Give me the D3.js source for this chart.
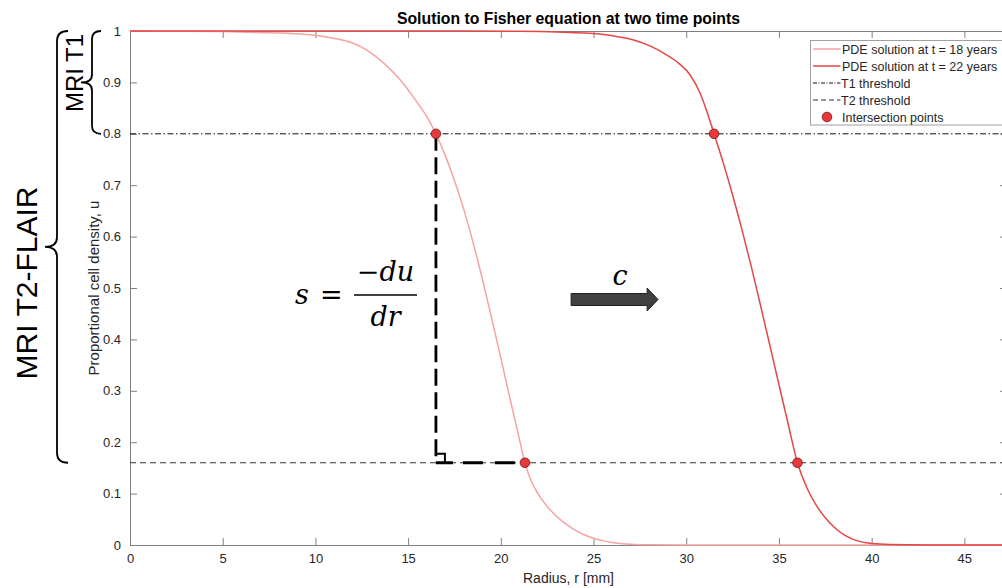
<!DOCTYPE html>
<html>
<head>
<meta charset="utf-8">
<script src="https://cdn.jsdelivr.net/npm/d3@7"></script>
<style>
  html, body { margin: 0; padding: 0; background: #fff; }
  svg { display: block; }
</style>
</head>
<body>
<svg id="chart" width="1002" height="588" font-family="'Liberation Sans', Arial, sans-serif"></svg>
<script>
// Fisher equation travelling-wave profiles, sampled as (radius, density)
const radius18  = [0, 3, 5, 7, 9.17, 10.97, 11.9, 12.77, 13.7, 14.57, 15.47, 16, 16.5, 17, 17.5, 18, 18.5, 19, 19.5, 20, 20.5, 21, 21.3, 21.6, 22, 22.5, 23, 23.5, 24, 24.5, 25, 25.5, 26, 27, 28, 30, 48];
const density18 = [1, 0.9997, 0.999, 0.997, 0.994, 0.986, 0.978, 0.963, 0.937, 0.905, 0.862, 0.834, 0.8, 0.758, 0.709, 0.653, 0.589, 0.518, 0.442, 0.364, 0.284, 0.206, 0.16, 0.128, 0.1, 0.075, 0.056, 0.041, 0.029, 0.02, 0.013, 0.0085, 0.005, 0.0015, 0.0004, 0, 0];

const radius22  = [0, 18, 21, 23, 25.36, 26.3, 27.16, 28.1, 28.96, 29.6, 30.22, 30.76, 31.1, 31.5, 32, 32.5, 33, 33.5, 34, 34.5, 35, 35.5, 36, 36.5, 37, 37.5, 38, 38.5, 39, 40, 41, 43, 48];
const density22 = [1, 0.9998, 0.9993, 0.998, 0.994, 0.989, 0.9825, 0.97, 0.953, 0.937, 0.914, 0.878, 0.845, 0.8, 0.743, 0.681, 0.614, 0.543, 0.467, 0.39, 0.312, 0.235, 0.16, 0.112, 0.078, 0.053, 0.034, 0.02, 0.011, 0.003, 0.001, 0.0001, 0];

// MRI detection thresholds
const thresholdT1 = 0.8;
const thresholdT2 = 0.16;

// Where each profile crosses the thresholds
const crossRadius  = [16.5, 21.3, 31.5, 36.0];
const crossDensity = [0.8, 0.16, 0.8, 0.16];

const xTicks = [0, 5, 10, 15, 20, 25, 30, 35, 40, 45];
const yTicks = [0, 0.1, 0.2, 0.3, 0.4, 0.5, 0.6, 0.7, 0.8, 0.9, 1];

const legendLabels = ["PDE solution at t = 18 years", "PDE solution at t = 22 years",
                      "T1 threshold", "T2 threshold", "Intersection points"];

const colLight = "#f6a3a3";
const colRed = "#e64646";
const axisCol = "#808080";
const textCol = "#262626";

const svg = d3.select("#chart");
const pL = 130, pR = 1007, pT = 31, pB = 545;

const x = d3.scaleLinear().domain([0, 47.3]).range([pL, pR]);
const y = d3.scaleLinear().domain([0, 1]).range([pB, pT]);

svg.append("rect").attr("width", 1002).attr("height", 588).attr("fill", "#fff");

// axes box with inward ticks
function styleAxis(g) {
  g.select(".domain").attr("stroke", axisCol).attr("stroke-width", 1);
  g.selectAll(".tick line").attr("stroke", axisCol);
  g.selectAll(".tick text").attr("fill", textCol).style("font-size", "13px")
    .style("font-family", "'Liberation Sans', Arial, sans-serif");
}
svg.append("g").attr("transform", `translate(0,${pB})`)
  .call(d3.axisBottom(x).tickValues(xTicks).tickSizeInner(-7).tickSizeOuter(0).tickPadding(9))
  .call(styleAxis);
svg.append("g").attr("transform", `translate(0,${pT})`)
  .call(d3.axisTop(x).tickValues(xTicks).tickSizeInner(-7).tickSizeOuter(0).tickFormat(""))
  .call(styleAxis);
svg.append("g").attr("transform", `translate(${pL},0)`)
  .call(d3.axisLeft(y).tickValues(yTicks).tickSizeInner(-7).tickSizeOuter(0).tickPadding(9).tickFormat(d3.format("~g")))
  .call(styleAxis);
svg.append("g").attr("transform", `translate(${pR},0)`)
  .call(d3.axisRight(y).tickValues(yTicks).tickSizeInner(-7).tickSizeOuter(0).tickFormat(""))
  .call(styleAxis);

// threshold lines
svg.append("line").attr("x1", pL).attr("x2", pR)
  .attr("y1", y(thresholdT1)).attr("y2", y(thresholdT1))
  .attr("stroke", "#111").attr("stroke-width", 1).attr("stroke-dasharray", "6,2.5,1.5,2.5");
svg.append("line").attr("x1", pL).attr("x2", pR)
  .attr("y1", y(thresholdT2)).attr("y2", y(thresholdT2))
  .attr("stroke", "#333").attr("stroke-width", 1.2).attr("stroke-dasharray", "6,4");

// solution curves
const line = d3.line().x(d => x(d[0])).y(d => y(d[1])).curve(d3.curveMonotoneX);
svg.append("clipPath").attr("id", "plotClip")
  .append("rect").attr("x", pL).attr("y", pT - 2).attr("width", pR - pL).attr("height", pB - pT + 4);
const plot = svg.append("g").attr("clip-path", "url(#plotClip)");
plot.append("path").datum(d3.zip(radius18, density18)).attr("d", line)
  .attr("fill", "none").attr("stroke", colLight).attr("stroke-width", 1.5);
plot.append("path").datum(d3.zip(radius22, density22)).attr("d", line)
  .attr("fill", "none").attr("stroke", colRed).attr("stroke-width", 1.5);

// slope construction on the earlier profile
const ax = x(crossRadius[0]), ayTop = y(crossDensity[0]), ayBot = y(crossDensity[1]), bx = x(crossRadius[1]);
svg.append("line").attr("x1", ax).attr("x2", ax).attr("y1", ayTop).attr("y2", ayBot)
  .attr("stroke", "#000").attr("stroke-width", 2.8).attr("stroke-dasharray", "17,6.5");
svg.append("line").attr("x1", ax).attr("x2", bx).attr("y1", ayBot).attr("y2", ayBot)
  .attr("stroke", "#000").attr("stroke-width", 2.8).attr("stroke-dasharray", "17,10,20,12,20");
svg.append("path").attr("d", `M${ax},${ayBot - 9}H${ax + 9}V${ayBot}`)
  .attr("fill", "none").attr("stroke", "#000").attr("stroke-width", 2);

// intersection markers
svg.selectAll("circle.cross").data(d3.zip(crossRadius, crossDensity)).join("circle")
  .attr("class", "cross").attr("cx", d => x(d[0])).attr("cy", d => y(d[1])).attr("r", 4.8)
  .attr("fill", "#e8393a").attr("stroke", "#7a1515").attr("stroke-width", 0.8);

// s = -du/dr annotation
const fx = x(8.9), fy = y(0.468);
const math = svg.append("g").attr("font-family", "'DejaVu Serif', serif").attr("font-size", 27).attr("fill", "#000");
math.append("text").attr("x", fx).attr("y", fy).attr("font-style", "italic").text("s");
math.append("text").attr("x", fx + 25).attr("y", fy).text("=");
math.append("line").attr("x1", fx + 59).attr("x2", fx + 122).attr("y1", fy - 9.5).attr("y2", fy - 9.5)
  .attr("stroke", "#000").attr("stroke-width", 1.6);
const num = math.append("text").attr("x", fx + 90.5).attr("y", fy - 23).attr("text-anchor", "middle");
num.append("tspan").text("\u2212");
num.append("tspan").attr("font-style", "italic").text("du");
math.append("text").attr("x", fx + 90.5).attr("y", fy + 22).attr("text-anchor", "middle")
  .attr("font-style", "italic").text("dr");

// wave speed arrow
const arX0 = x(23.79), arX1 = x(27.89), arX2 = x(28.48), arY = y(0.4776);
svg.append("path")
  .attr("d", `M${arX0},${arY - 6}H${arX1}V${arY - 11.5}L${arX2},${arY}L${arX1},${arY + 11.5}V${arY + 6}H${arX0}Z`)
  .attr("fill", "#404040").attr("stroke", "#222").attr("stroke-width", 1);
svg.append("text").attr("x", x(26.43)).attr("y", y(0.506)).attr("text-anchor", "middle")
  .attr("font-family", "'DejaVu Serif', serif").attr("font-style", "italic").attr("font-size", 27).text("c");

// MRI sensitivity braces
function brace(x0, x1, xt, y0, y1, ym, r) {
  return `M${x0},${y0}Q${x1},${y0} ${x1},${y0 + r}L${x1},${ym - r}Q${x1},${ym} ${xt},${ym}` +
         `Q${x1},${ym} ${x1},${ym + r}L${x1},${y1 - r}Q${x1},${y1} ${x0},${y1}`;
}
svg.append("path").attr("d", brace(101, 92, 81, y(1), y(thresholdT1), (y(1) + y(thresholdT1)) / 2, 8))
  .attr("fill", "none").attr("stroke", "#000").attr("stroke-width", 1.8);
svg.append("path").attr("d", brace(68, 57, 45, y(1), y(thresholdT2), (y(1) + y(thresholdT2)) / 2, 10))
  .attr("fill", "none").attr("stroke", "#000").attr("stroke-width", 1.8);
svg.append("text").attr("transform", `translate(83,73) rotate(-90)`).attr("text-anchor", "middle")
  .attr("font-size", 24).attr("fill", "#000").text("MRI T1");
svg.append("text").attr("transform", `translate(37,283) rotate(-90)`).attr("text-anchor", "middle")
  .attr("font-size", 30).attr("fill", "#000").text("MRI T2-FLAIR");

// titles
svg.append("text").attr("x", (pL + pR) / 2).attr("y", 24).attr("text-anchor", "middle")
  .attr("font-weight", "bold").attr("font-size", 15.8).attr("fill", "#000")
  .text("Solution to Fisher equation at two time points");
svg.append("text").attr("x", (pL + pR) / 2).attr("y", 583).attr("text-anchor", "middle")
  .attr("font-size", 14).attr("fill", textCol).text("Radius, r [mm]");
svg.append("text").attr("transform", `translate(99,${(pT + pB) / 2}) rotate(-90)`).attr("text-anchor", "middle")
  .attr("font-size", 15).attr("fill", textCol).text("Proportional cell density, u");

// legend
const lg = svg.append("g").attr("transform", "translate(810.5,40.5)");
lg.append("rect").attr("width", 200).attr("height", 84.5).attr("fill", "#fff").attr("stroke", "#a0a0a0");
const entries = [
  { stroke: colLight, dash: null, w: 1.5 },
  { stroke: colRed, dash: null, w: 1.5 },
  { stroke: "#111", dash: "4,1.5,1,1.5", w: 1 },
  { stroke: "#333", dash: "5,3", w: 1.2 },
  { dot: true }
];
entries.forEach((e, i) => {
  const ey = 8.5 + i * 17;
  if (e.dot) {
    lg.append("circle").attr("cx", 16.5).attr("cy", ey).attr("r", 4.8)
      .attr("fill", "#e8393a").attr("stroke", "#7a1515").attr("stroke-width", 0.8);
  } else {
    lg.append("line").attr("x1", 2.5).attr("x2", 30).attr("y1", ey).attr("y2", ey)
      .attr("stroke", e.stroke).attr("stroke-width", e.w).attr("stroke-dasharray", e.dash);
  }
  lg.append("text").attr("x", i === 2 || i === 3 ? 30.5 : 31.5).attr("y", ey + 4.5)
    .attr("font-size", 12.5).attr("fill", textCol).text(legendLabels[i]);
});
</script>
</body>
</html>
